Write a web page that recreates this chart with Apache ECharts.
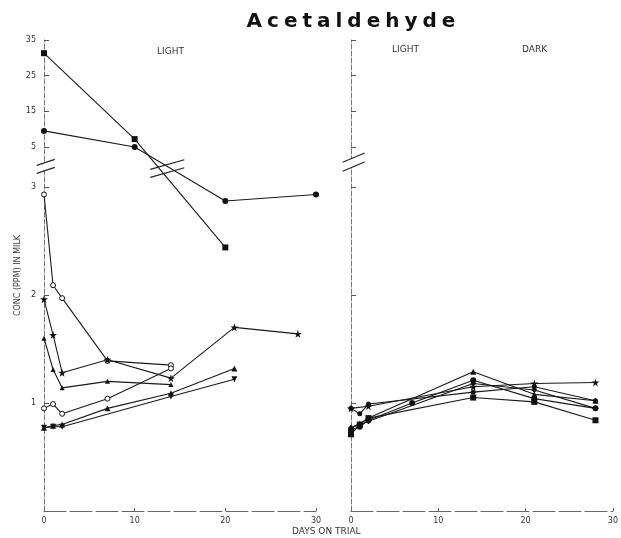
<!DOCTYPE html>
<html>
<head>
<meta charset="utf-8">
<title>Acetaldehyde</title>
<script src="https://cdn.jsdelivr.net/npm/echarts@6/dist/echarts.min.js"></script>
<style>
  html, body { margin: 0; padding: 0; background: #fff; }
  #wrap { position: relative; width: 621px; height: 538px; }
  #chart { width: 621px; height: 538px; }
  #title {
    position: absolute; left: 0; top: 8px; width: 621px; padding-left: 86px; box-sizing: border-box;
    text-align: center; font: 900 20px 'DejaVu Sans', Arial, sans-serif;
    letter-spacing: 5px; color: #111; pointer-events: none;
  }
</style>
</head>
<body>
<div id="wrap">
  <div id="chart"></div>
  <div id="title">Acetaldehyde</div>
</div>
<script>
// 数据: [天数, 浓度 ppm]
// 左图 LIGHT
const lightSquares = [[0, 31.3], [10, 7.2], [20, 2.44]]
const lightDots = [[0, 9.5], [10, 5.0], [20, 2.87], [30, 2.93]]
const lightOpenA = [[0, 2.93], [1, 2.09], [2, 1.97], [7, 1.39], [14, 1.35]]
const lightStars = [[0, 1.96], [1, 1.63], [2, 1.28], [7, 1.40], [14, 1.23], [21, 1.70], [28, 1.64]]
const lightTriangles = [[0, 1.60], [1, 1.31], [2, 1.14], [7, 1.20], [14, 1.17]]
const lightOpenB = [[0, 0.95], [1, 0.99], [2, 0.90], [7, 1.04], [14, 1.32]]
const lightFilledTri = [[0, 0.77], [1, 0.79], [2, 0.80], [7, 0.95], [14, 1.09], [21, 1.32]]
const lightDownTri = [[0, 0.77], [1, 0.78], [2, 0.78], [14, 1.06], [21, 1.22]]

// 右图 LIGHT / DARK
const darkStars = [[0, 0.95], [2, 0.97], [14, 1.15], [21, 1.18], [28, 1.19]]
const darkTriangles = [[0, 0.77], [1, 0.81], [2, 0.86], [14, 1.29], [21, 1.08], [28, 1.02]]
const darkDots = [[0, 0.75], [1, 0.78], [2, 0.84], [7, 1.00], [14, 1.21], [21, 1.04], [28, 0.95]]
const darkSquares = [[0, 0.71], [1, 0.80], [2, 0.86], [14, 1.05], [21, 1.01], [28, 0.84]]
const darkDiamonds = [[0, 0.77], [2, 0.83], [14, 1.18], [21, 1.12], [28, 0.95]]
const darkCircles = [[0, 0.95], [1, 0.90], [2, 0.99], [14, 1.10], [21, 1.15], [28, 1.02]]

// 坐标轴刻度
const dayTicks = [0, 10, 20, 30]
const lowTicks = [1, 2, 3]
const highTicks = [5, 15, 25, 35]

// 断轴: 0-3 一段, 5-35 一段 (压缩)
const BREAK_BASE = 3.37
const UPPER_SCALE = 0.033
function toAxis(v) {
  return v <= 3.3 ? v : BREAK_BASE + (v - 5) * UPPER_SCALE
}
function fromAxis(a) {
  return a <= 3.3 ? Math.round(a) : Math.round(5 + (a - BREAK_BASE) / UPPER_SCALE)
}

const starPath = 'path://M50,0 L61,35 L98,35 L68,57 L79,91 L50,70 L21,91 L32,57 L2,35 L39,35 Z'
const tickVals = lowTicks.concat(highTicks).map(toAxis)
const yMax = toAxis(35)

function makeSeries(data, grid, symbol, opts = {}) {
  return {
    type: 'line',
    xAxisIndex: grid,
    yAxisIndex: grid,
    data: data.map(([d, v]) => [d, toAxis(v)]),
    symbol: symbol,
    symbolSize: opts.size || 5,
    symbolRotate: opts.rotate || 0,
    itemStyle: { color: opts.hollow ? '#fff' : '#111', borderColor: '#111', borderWidth: opts.hollow ? 1 : 0 },
    lineStyle: { color: '#1a1a1a', width: 1.1 },
    emphasis: { disabled: true },
    animation: false
  }
}

function yAxisFor(grid, withLabels) {
  return {
    type: 'value',
    gridIndex: grid,
    min: 0,
    max: yMax,
    axisLine: { show: true, lineStyle: { color: '#777', width: 1, type: [5, 2] } },
    axisTick: { show: true, inside: true, length: 5, customValues: tickVals, lineStyle: { color: '#555' } },
    axisLabel: {
      show: withLabels,
      customValues: tickVals,
      formatter: (v) => String(fromAxis(v)),
      fontSize: 8,
      color: '#333',
      margin: 8,
      fontFamily: 'DejaVu Sans'
    },
    splitLine: { show: false },
    name: withLabels ? 'CONC (PPM) IN MILK' : '',
    nameLocation: 'middle',
    nameRotate: 90,
    nameGap: 20,
    nameTextStyle: { fontSize: 8, color: '#333', fontFamily: 'DejaVu Sans' }
  }
}

function xAxisFor(grid) {
  return {
    type: 'value',
    gridIndex: grid,
    min: dayTicks[0],
    max: dayTicks[dayTicks.length - 1],
    interval: 10,
    axisLine: { show: true, onZero: false, lineStyle: { color: '#666', width: 1, type: [22, 4] } },
    axisTick: { show: true, inside: true, length: 3, lineStyle: { color: '#666' } },
    axisLabel: { fontSize: 8, color: '#333', margin: 6, fontFamily: 'DejaVu Sans' },
    splitLine: { show: false }
  }
}

const chart = echarts.init(document.getElementById('chart'))
chart.setOption({
  animation: false,
  grid: [
    { left: 44, top: 40, width: 272, height: 471 },
    { left: 351, top: 40, width: 273, height: 471 }
  ],
  xAxis: [xAxisFor(0), xAxisFor(1)],
  yAxis: [yAxisFor(0, true), yAxisFor(1, false)],
  series: [
    makeSeries(lightSquares, 0, 'rect', { size: 6 }),
    makeSeries(lightDots, 0, 'circle', { size: 6 }),
    makeSeries(lightOpenA, 0, 'circle', { hollow: true }),
    makeSeries(lightStars, 0, starPath, { size: 8 }),
    makeSeries(lightTriangles, 0, 'triangle', { size: 5 }),
    makeSeries(lightOpenB, 0, 'circle', { hollow: true }),
    makeSeries(lightFilledTri, 0, 'triangle', { size: 6 }),
    makeSeries(lightDownTri, 0, 'triangle', { size: 6, rotate: 180 }),
    makeSeries(darkStars, 1, starPath, { size: 8 }),
    makeSeries(darkTriangles, 1, 'triangle', { size: 6 }),
    makeSeries(darkDots, 1, 'circle', { size: 6 }),
    makeSeries(darkSquares, 1, 'rect', { size: 6 }),
    makeSeries(darkDiamonds, 1, 'diamond', { size: 6 }),
    makeSeries(darkCircles, 1, 'circle', { size: 5 })
  ]
})

// 断轴标记与文字
function breakMark(cx, cy, half, slope, gap, blank) {
  const els = []
  const p1 = [[cx - half, cy - gap / 2 + half * slope], [cx + half, cy - gap / 2 - half * slope]]
  const p2 = [[cx - half, cy + gap / 2 + half * slope], [cx + half, cy + gap / 2 - half * slope]]
  if (blank) {
    els.push({ type: 'polygon', shape: { points: [p1[0], p1[1], p2[1], p2[0]] }, style: { fill: '#fff' }, z: 100 })
  }
  for (const p of [p1, p2]) {
    els.push({
      type: 'line',
      shape: { x1: p[0][0], y1: p[0][1], x2: p[1][0], y2: p[1][1] },
      style: { stroke: '#222', lineWidth: 1.2 },
      z: 101
    })
  }
  return els
}

const leftAxisPt = chart.convertToPixel({ gridIndex: 0 }, [0.2, 3.19])
const dataPt = chart.convertToPixel({ gridIndex: 0 }, [13.6, 3.17])
const rightAxisPt = chart.convertToPixel({ gridIndex: 1 }, [0.3, 3.23])

const labelStyle = { fill: '#333', fontSize: 9, fontFamily: 'DejaVu Sans' }
chart.setOption({
  graphic: [
    ...breakMark(leftAxisPt[0], leftAxisPt[1], 9, 0.33, 8, true),
    ...breakMark(dataPt[0], dataPt[1], 17, 0.28, 8, false),
    ...breakMark(rightAxisPt[0], rightAxisPt[1], 11, 0.42, 9, true),
    { type: 'text', left: 157, top: 47, style: Object.assign({ text: 'LIGHT' }, labelStyle) },
    { type: 'text', left: 392, top: 45, style: Object.assign({ text: 'LIGHT' }, labelStyle) },
    { type: 'text', left: 522, top: 45, style: Object.assign({ text: 'DARK' }, labelStyle) },
    { type: 'text', left: 292, top: 527, style: Object.assign({ text: 'DAYS ON TRIAL' }, labelStyle) }
  ]
})
</script>
</body>
</html>
